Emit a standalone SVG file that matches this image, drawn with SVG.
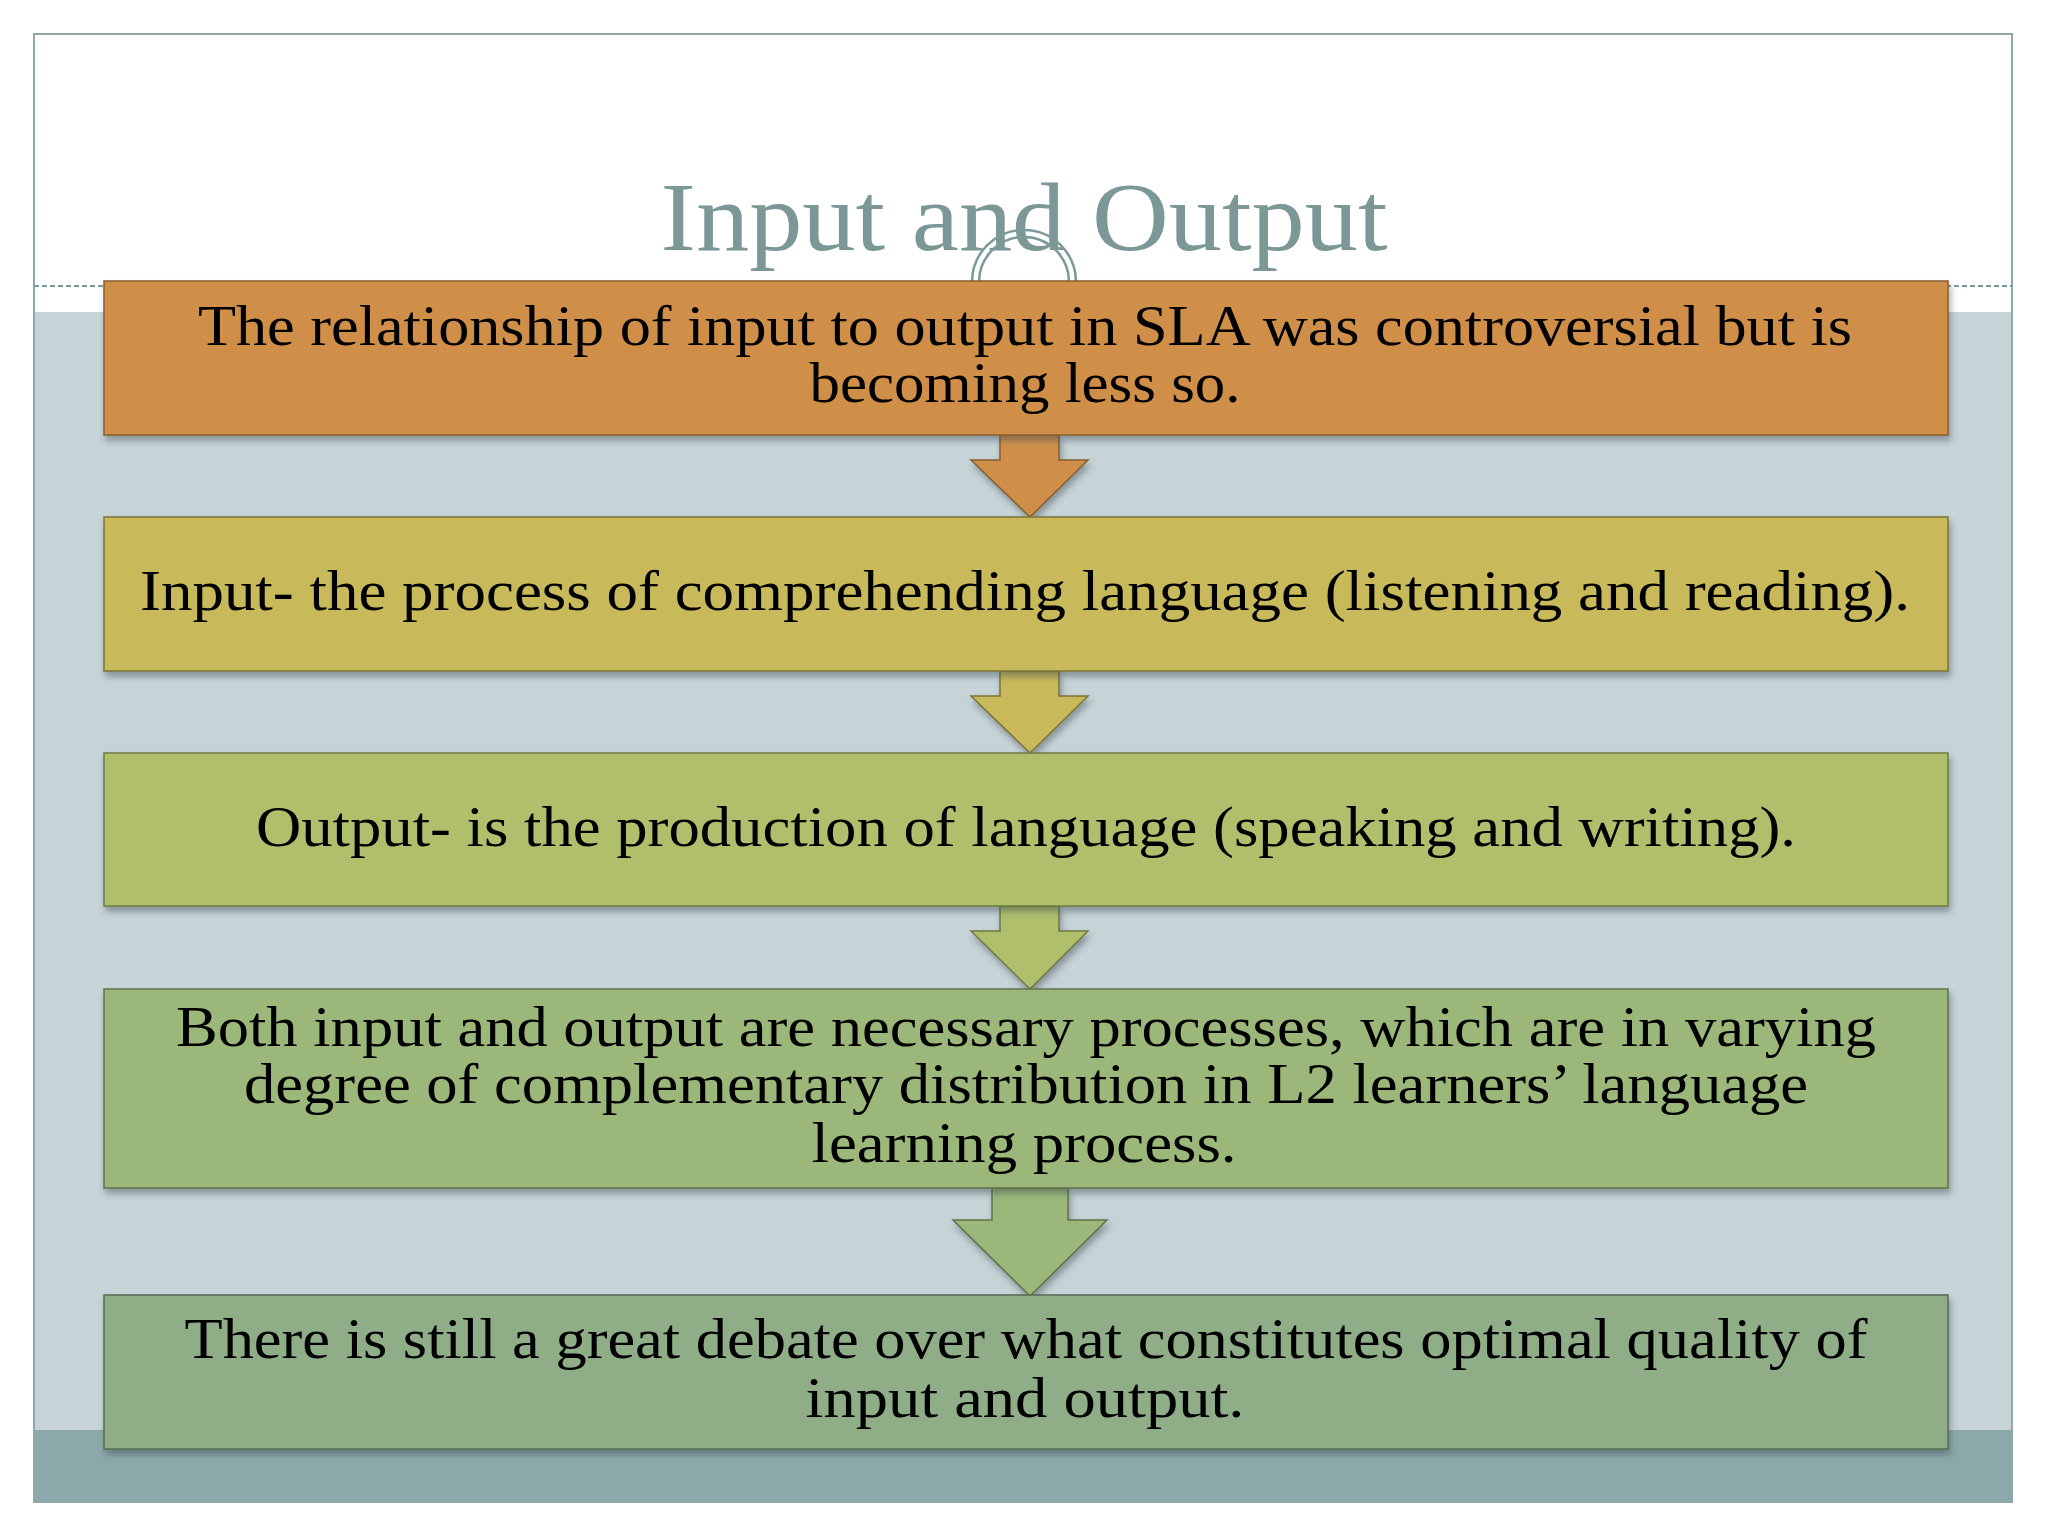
<svg xmlns="http://www.w3.org/2000/svg" width="2048" height="1536" viewBox="0 0 2048 1536">
  <defs>
    <filter id="sh" x="-5%" y="-20%" width="110%" height="150%">
      <feDropShadow dx="2" dy="5" stdDeviation="3" flood-color="#3a4a50" flood-opacity="0.45"/>
    </filter>
    <style>
      .box { stroke-width: 1.5; }
      .txt { font-family: "Liberation Serif", "DejaVu Serif", serif; font-size: 56px; fill: #000; text-anchor: middle; }
      .title { font-family: "Liberation Serif", "DejaVu Serif", serif; font-size: 98px; fill: #7b9796; text-anchor: middle; }
      .arrow { stroke-width: 1.5; stroke-linejoin: miter; }
      .c1 { fill: #cf8f48; stroke: #8a5e2e; }
      .c2 { fill: #c8b95a; stroke: #7e7434; }
      .c3 { fill: #afbf6c; stroke: #6f7a42; }
      .c4 { fill: #9bb87a; stroke: #5f7348; }
      .c5 { fill: #8fae88; stroke: #566c52; }
    </style>
  </defs>

  <!-- slide background -->
  <rect x="0" y="0" width="2048" height="1536" fill="#ffffff"/>
  <rect x="34" y="312" width="1978" height="1118" fill="#c6d3d7"/>
  <rect x="34" y="1430" width="1978" height="72" fill="#8ba9ab"/>
  <rect x="34" y="34" width="1978" height="1468" fill="none" stroke="#8fa8a8" stroke-width="2"/>
  <line x1="34" y1="286" x2="2012" y2="286" stroke="#7d9a9a" stroke-width="2" stroke-dasharray="5 3"/>

  <!-- title -->
  <g id="title">
    <text class="title" x="1024" y="250" textLength="727" lengthAdjust="spacingAndGlyphs">Input and Output</text>
    <circle cx="1024" cy="282" r="52" fill="none" stroke="#7d9a9a" stroke-width="2.5"/>
    <circle cx="1024" cy="282" r="45" fill="none" stroke="#7d9a9a" stroke-width="2.5"/>
  </g>

  <!-- connectors -->
  <g id="connectors" filter="url(#sh)">
    <polygon class="arrow c1" points="1000,435 1059,435 1059,460 1088,460 1030,517 971,460 1000,460"/>
    <polygon class="arrow c2" points="1000,671 1059,671 1059,696 1088,696 1030,753 971,696 1000,696"/>
    <polygon class="arrow c3" points="1000,906 1059,906 1059,931 1088,931 1030,989 971,931 1000,931"/>
    <polygon class="arrow c4" points="992,1188 1068,1188 1068,1220 1107,1220 1030,1296 953,1220 992,1220"/>
  </g>

  <g id="node1">
    <rect class="box c1" x="104" y="281" width="1844" height="154" filter="url(#sh)"/>
    <text class="txt" x="1025" y="345" textLength="1654" lengthAdjust="spacingAndGlyphs">The relationship of input to output in SLA was controversial but is</text>
    <text class="txt" x="1025" y="402" textLength="431" lengthAdjust="spacingAndGlyphs">becoming less so.</text>
  </g>

  <g id="node2">
    <rect class="box c2" x="104" y="517" width="1844" height="154" filter="url(#sh)"/>
    <text class="txt" x="1025" y="610" textLength="1770" lengthAdjust="spacingAndGlyphs">Input- the process of comprehending language (listening and reading).</text>
  </g>

  <g id="node3">
    <rect class="box c3" x="104" y="753" width="1844" height="153" filter="url(#sh)"/>
    <text class="txt" x="1026" y="846" textLength="1540" lengthAdjust="spacingAndGlyphs">Output- is the production of language (speaking and writing).</text>
  </g>

  <g id="node4">
    <rect class="box c4" x="104" y="989" width="1844" height="199" filter="url(#sh)"/>
    <text class="txt" x="1026" y="1046" textLength="1700" lengthAdjust="spacingAndGlyphs">Both input and output are necessary processes, which are in varying</text>
    <text class="txt" x="1026" y="1103" textLength="1564" lengthAdjust="spacingAndGlyphs">degree of complementary distribution in L2 learners’ language</text>
    <text class="txt" x="1024" y="1162" textLength="425" lengthAdjust="spacingAndGlyphs">learning process.</text>
  </g>

  <g id="node5">
    <rect class="box c5" x="104" y="1295" width="1844" height="154" filter="url(#sh)"/>
    <text class="txt" x="1026" y="1358" textLength="1683" lengthAdjust="spacingAndGlyphs">There is still a great debate over what constitutes optimal quality of</text>
    <text class="txt" x="1025" y="1417" textLength="439" lengthAdjust="spacingAndGlyphs">input and output.</text>
  </g>
</svg>
